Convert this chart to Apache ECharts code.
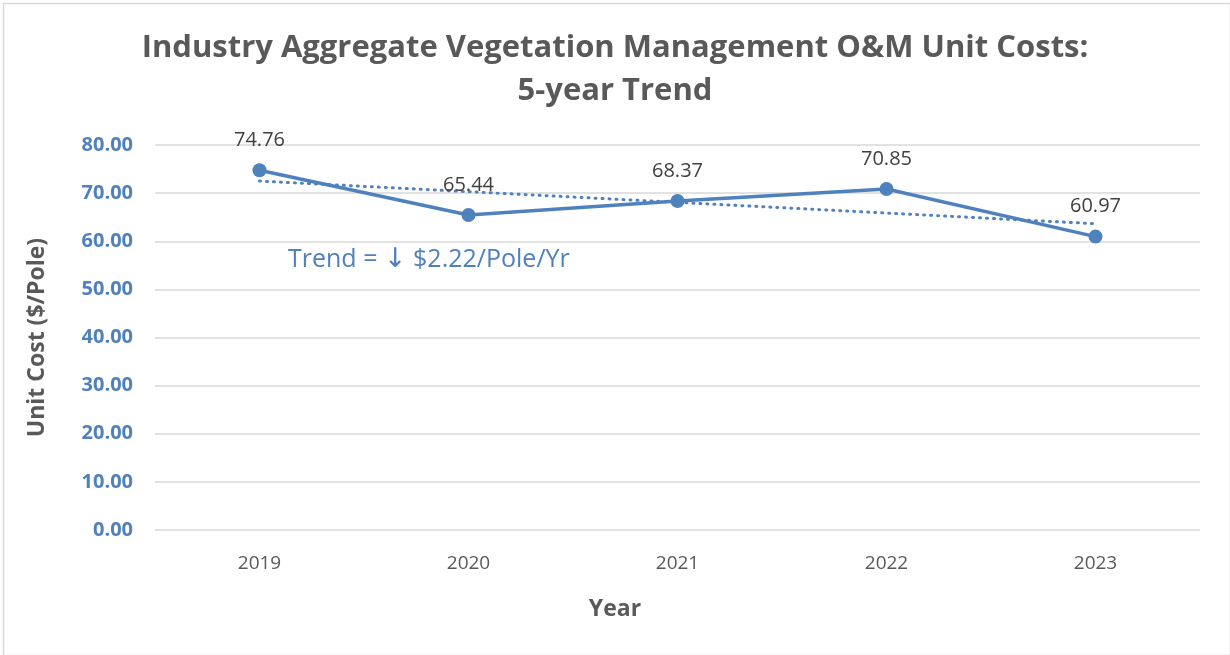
<!DOCTYPE html>
<html>
<head>
<meta charset="utf-8">
<script src="https://cdn.jsdelivr.net/npm/echarts@6/dist/echarts.min.js"></script>
<style>
  html, body { margin: 0; padding: 0; background: #fff; }
  #main { width: 1230px; height: 655px; }
</style>
</head>
<body>
<div id="main"></div>
<script>
// 年份
const years = ['2019', '2020', '2021', '2022', '2023'];
// 单位成本 ($/Pole)
const unitCost = [74.76, 65.44, 68.37, 70.85, 60.97];
// 线性趋势线 (斜率 -2.22/年)
const trendLine = [72.51, 70.30, 68.08, 65.86, 63.64];

const blue = '#4F81BD';
const font = 'Open Sans';
const chart = echarts.init(document.getElementById('main'), null, { renderer: 'canvas' });

const option = {
  backgroundColor: '#fff',
  animation: false,
  title: {
    text: 'Industry Aggregate Vegetation Management O&M Unit Costs:\n5-year Trend',
    left: 'center',
    top: 22,
    textStyle: {
      fontFamily: font,
      fontWeight: 'bold',
      fontSize: 31,
      color: '#595959',
      lineHeight: 43
    }
  },
  grid: { left: 155, right: 30, top: 145, bottom: 125 },
  xAxis: {
    type: 'category',
    data: years,
    boundaryGap: true,
    axisLine: { show: false },
    axisTick: { show: false },
    axisLabel: { fontFamily: font, fontSize: 19, color: '#595959', margin: 24 }
  },
  yAxis: {
    type: 'value',
    min: 0,
    max: 80,
    interval: 10,
    name: 'Unit Cost ($/Pole)',
    nameLocation: 'middle',
    nameGap: 106,
    nameTextStyle: { fontFamily: font, fontWeight: 'bold', fontSize: 23, color: '#595959' },
    axisLine: { show: false },
    axisTick: { show: false },
    axisLabel: {
      fontFamily: font, fontWeight: 'bold', fontSize: 20, color: blue, margin: 22,
      formatter: (v) => v.toFixed(2)
    },
    splitLine: { lineStyle: { color: '#d9d9d9', width: 1.5 } }
  },
  series: [
    {
      name: 'Trend',
      type: 'line',
      data: trendLine,
      symbol: 'none',
      lineStyle: { color: blue, width: 3, type: [1, 6], cap: 'round' },
      silent: true,
      z: 1
    },
    {
      name: 'Unit Cost',
      type: 'line',
      data: unitCost,
      symbol: 'circle',
      symbolSize: 14,
      itemStyle: { color: blue },
      lineStyle: { color: blue, width: 3.5 },
      label: {
        show: true,
        position: 'top',
        distance: 13,
        fontFamily: font,
        fontSize: 20,
        color: '#404040',
        formatter: (p) => p.value.toFixed(2)
      },
      z: 2
    }
  ],
  graphic: [
    {
      type: 'rect',
      left: 1, top: 1,
      shape: { width: 1227, height: 652 },
      style: { fill: 'none', stroke: '#d9d9d9', lineWidth: 1.5 },
      silent: true
    },
    {
      type: 'text',
      left: 288,
      top: 246,
      style: {
        text: 'Trend = {a|\u2193} $2.22/Pole/Yr',
        fontFamily: font, fontSize: 25, fill: blue,
        rich: { a: { fontFamily: 'DejaVu Sans', fontSize: 27, fill: blue } }
      }
    },
    {
      type: 'text',
      x: 615,
      y: 609,
      style: {
        text: 'Year', fontFamily: font, fontWeight: 'bold', fontSize: 23, fill: '#595959',
        align: 'center', verticalAlign: 'middle'
      }
    }
  ]
};

chart.setOption(option);
</script>
</body>
</html>
